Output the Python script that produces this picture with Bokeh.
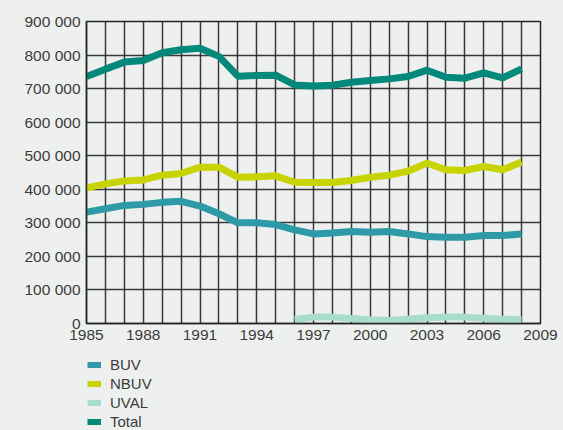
from bokeh.plotting import figure
from bokeh.layouts import column
from bokeh.models import FixedTicker, Range1d, Legend, LegendItem
from bokeh.embed import file_html
from bokeh.resources import INLINE

years = list(range(1985, 2009))
years_uval = list(range(1996, 2009))

buv = [332000, 342000, 352000, 355000, 361000, 364000, 350000, 327000, 300000, 300000,
       295000, 279000, 267000, 270000, 274000, 272000, 274000, 267000, 259000, 257000,
       257000, 262000, 262000, 267000]
nbuv = [404000, 416000, 425000, 428000, 442000, 447000, 466000, 466000, 436000, 437000,
        440000, 421000, 420000, 420000, 426000, 436000, 442000, 454000, 478000, 458000,
        456000, 468000, 458000, 481000]
uval = [12000, 19000, 19000, 15000, 11000, 9000, 13000, 17000, 19000, 19000, 16000, 13000, 12000]
total = [736000, 758000, 779000, 784000, 807000, 816000, 820000, 796000, 737000, 739000,
         740000, 711000, 708000, 710000, 719000, 724000, 729000, 736000, 755000, 734000,
         731000, 747000, 732000, 759000]

series_names = ["BUV", "NBUV", "UVAL", "Total"]

x_ticks = [1985, 1988, 1991, 1994, 1997, 2000, 2003, 2006, 2009]
y_ticks = [0, 100000, 200000, 300000, 400000, 500000, 600000, 700000, 800000, 900000]
grid_years = list(range(1985, 2010))

colors = ["#2e9aa8", "#c8d400", "#a8dccd", "#00897a"]
bg = "#eef0ef"
grid_c = "#262626"
font = "Liberation Sans"
txt_c = "#3c3c3c"

p = figure(width=563, height=350, output_backend="svg", toolbar_location=None,
           x_range=Range1d(1985, 2009), y_range=Range1d(0, 900000),
           min_border_left=86, min_border_right=23, min_border_top=21, min_border_bottom=27)
p.background_fill_color = bg
p.border_fill_color = bg
p.outline_line_color = grid_c
p.outline_line_width = 1.5

p.xaxis.ticker = FixedTicker(ticks=x_ticks)
p.yaxis.ticker = FixedTicker(ticks=y_ticks)
p.xgrid.ticker = FixedTicker(ticks=grid_years)
p.ygrid.ticker = FixedTicker(ticks=y_ticks)
for g in (p.xgrid, p.ygrid):
    g.grid_line_color = grid_c
    g.grid_line_width = 1.5
    g.grid_line_alpha = 0.9
p.yaxis.major_label_overrides = {v: f"{v:,}".replace(",", " ") for v in y_ticks}
for ax in (p.xaxis, p.yaxis):
    ax.axis_line_color = grid_c
    ax.axis_line_width = 1.5
    ax.major_tick_line_color = None
    ax.minor_tick_line_color = None
    ax.major_tick_out = 0
    ax.major_tick_in = 0
    ax.major_label_text_font = font
    ax.major_label_text_font_size = "15.5px"
    ax.major_label_text_color = txt_c
p.yaxis.major_label_standoff = 6
p.xaxis.major_label_standoff = 6

xs = [years, years, years_uval, years]
ys = [buv, nbuv, uval, total]
for x, y, c in zip(xs, ys, colors):
    p.line(x, y, line_color=c, line_width=7)

# legend panel below the chart (series drawn out of view; only the legend shows)
p2 = figure(width=563, height=80, output_backend="svg", toolbar_location=None,
            x_axis_type=None, y_axis_type=None,
            x_range=Range1d(1985, 2009), y_range=Range1d(-3e6, -2e6),
            min_border_left=86, min_border_right=23, min_border_top=0, min_border_bottom=0)
p2.background_fill_color = bg
p2.border_fill_color = bg
p2.outline_line_color = None
p2.xgrid.visible = False
p2.ygrid.visible = False
items = []
for name, x, y, c in zip(series_names, xs, ys, colors):
    r = p2.line(x, y, line_color=c, line_width=6, line_cap="butt")
    items.append(LegendItem(label=name, renderers=[r]))
legend = Legend(items=items, location=(1, 0), orientation="vertical",
                background_fill_alpha=0, border_line_color=None,
                padding=0, margin=0, spacing=2,
                glyph_width=14, glyph_height=15, label_height=15,
                label_standoff=9,
                label_text_font=font, label_text_font_size="15px",
                label_text_color=txt_c)
p2.add_layout(legend, "center")

layout = column(p, p2, spacing=0, styles={"background-color": bg})
open("out.html", "w").write(file_html(layout, INLINE))
